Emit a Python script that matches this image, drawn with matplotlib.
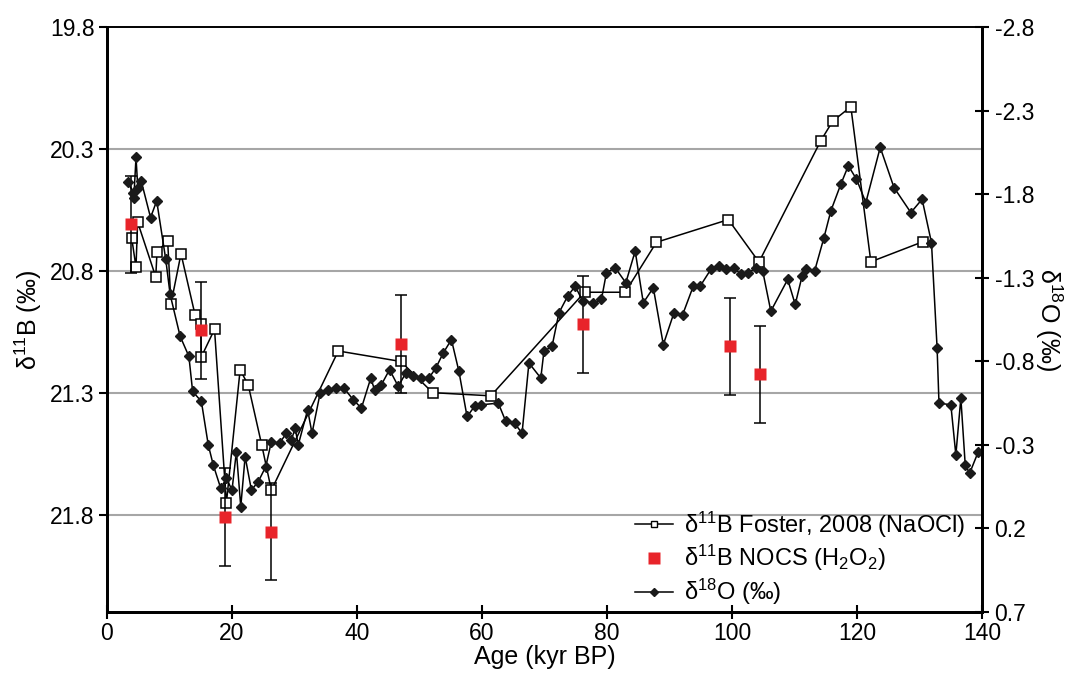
import matplotlib
matplotlib.use("Agg")
import matplotlib.pyplot as plt
from matplotlib.lines import Line2D
import numpy as np

plt.rcParams["font.family"] = ["Liberation Sans", "DejaVu Sans"]
plt.rcParams["mathtext.default"] = "regular"
plt.rcParams["axes.unicode_minus"] = False

# d11B, Foster 2008 (NaOCl cleaned)
foster_age = [3.95, 4.64, 4.9, 7.8, 8.0, 9.7, 10.24, 11.84, 14.08, 15.0, 15.1, 17.2,
              19.1, 21.3, 22.6, 24.75, 26.3, 37.0, 47.0, 52.1, 61.4, 76.4, 82.9, 87.9,
              99.4, 104.3, 114.2, 116.1, 119.0, 122.2, 130.6]
foster_d11b = [20.665, 20.785, 20.60, 20.825, 20.724, 20.676, 20.935, 20.73, 20.98, 21.02,
               21.153, 21.04, 21.753, 21.206, 21.269, 21.514, 21.70, 21.129, 21.172, 21.30,
               21.313, 20.888, 20.888, 20.683, 20.59, 20.764, 20.266, 20.186, 20.127,
               20.763, 20.68]

# d11B, NOCS (H2O2 cleaned) with 2 sd uncertainty
nocs_age = [3.84, 15.04, 18.9, 26.24, 47.0, 76.2, 99.6, 104.4]
nocs_d11b = [20.61, 21.044, 21.81, 21.87, 21.10, 21.02, 21.11, 21.225]
nocs_err = [0.2, 0.2, 0.2, 0.2, 0.2, 0.2, 0.2, 0.2]

# benthic d18O
d18o_age = [3.4, 4.2, 4.3, 4.64, 4.93, 5.47, 6.97, 7.95, 9.4, 10.1, 11.7, 13.1, 13.7,
            15.1, 16.2, 17.0, 18.2, 19.1, 20.0, 20.7, 21.4, 22.1, 23.1, 24.2, 25.4,
            26.3, 27.6, 28.7, 29.5, 30.1, 30.6, 32.1, 32.8, 34.1, 35.4, 36.7, 37.9,
            39.4, 40.7, 42.2, 42.8, 43.9, 45.2, 46.6, 47.8, 48.9, 50.2, 51.5, 52.6,
            53.8, 55.1, 56.3, 57.6, 58.8, 59.9, 62.6, 63.8, 65.2, 66.4, 67.5, 69.4,
            69.9, 71.2, 72.3, 73.7, 74.9, 76.1, 77.8, 79.1, 79.9, 81.3, 83.0, 84.5,
            85.8, 87.4, 89.0, 90.7, 92.1, 93.8, 94.9, 96.6, 97.9, 99.1, 100.3, 101.4,
            102.6, 103.9, 104.9, 106.2, 108.9, 110.1, 111.2, 111.8, 113.2, 114.7,
            115.8, 117.4, 118.6, 119.9, 121.4, 123.7, 125.9, 128.6, 130.4, 131.9,
            132.8, 133.1, 135.0, 135.8, 136.6, 137.3, 138.0, 139.4]
d18o = [-1.87, -1.81, -1.78, -2.02, -1.84, -1.88, -1.66, -1.76, -1.41, -1.20, -0.95,
        -0.83, -0.62, -0.56, -0.30, -0.18, -0.04, -0.10, -0.03, -0.26, 0.07, -0.23,
        -0.03, -0.08, -0.17, -0.32, -0.31, -0.37, -0.33, -0.40, -0.30, -0.51, -0.37,
        -0.61, -0.63, -0.64, -0.64, -0.57, -0.52, -0.70, -0.63, -0.66, -0.75, -0.65,
        -0.73, -0.71, -0.70, -0.70, -0.76, -0.85, -0.93, -0.74, -0.47, -0.53, -0.54,
        -0.55, -0.44, -0.43, -0.37, -0.79, -0.70, -0.86, -0.89, -1.09, -1.19, -1.25,
        -1.16, -1.15, -1.17, -1.33, -1.36, -1.27, -1.46, -1.15, -1.24, -0.90, -1.09,
        -1.08, -1.25, -1.25, -1.35, -1.37, -1.35, -1.36, -1.32, -1.33, -1.36, -1.34,
        -1.10, -1.29, -1.14, -1.31, -1.35, -1.34, -1.54, -1.70, -1.86, -1.97, -1.89,
        -1.75, -2.08, -1.84, -1.69, -1.77, -1.51, -0.88, -0.55, -0.54, -0.24, -0.58,
        -0.18, -0.13, -0.26]

left_ticks = [19.8, 20.3, 20.8, 21.3, 21.8]
right_ticks = [-2.8, -2.3, -1.8, -1.3, -0.8, -0.3, 0.2, 0.7]

RED = "#e8242a"

fig = plt.figure(figsize=(10.71, 6.78), dpi=100)
ax = fig.add_axes([0.0999, 0.0973, 0.8171, 0.8628])
ax2 = ax.twinx()

for y in left_ticks[1:]:
    ax.axhline(y, color="#a6a6a6", lw=1.5, zorder=0)

ax.plot(foster_age, foster_d11b, "-s", color="black", lw=1.1, ms=7,
        mfc="white", mec="black", mew=1.1, zorder=3)
ax.errorbar(nocs_age, nocs_d11b, yerr=nocs_err, fmt="s", color=RED,
            ms=8, mec="none", ecolor="black", elinewidth=1.1, capsize=4,
            capthick=1.1, zorder=4)
ax2.plot(d18o_age, d18o, "-D", color="black", lw=1.1, ms=5.5,
         mfc="#1a1a1a", mec="#1a1a1a")

ax.set_xlim(0, 140)
ax.set_xticks(np.arange(0, 141, 20))
ax.set_ylim(22.2, 19.8)
ax.set_yticks(left_ticks)
ax.set_yticklabels([f"{v:.1f}" for v in left_ticks])
ax2.set_ylim(0.7, -2.8)
ax2.set_yticks(right_ticks)
ax2.set_yticklabels([f"{v:.1f}" for v in right_ticks])

ax.set_xlabel("Age (kyr BP)", fontsize=18, labelpad=0)
ax.set_ylabel(r"δ$^{11}$B (‰)", fontsize=18, labelpad=4)
ax2.set_ylabel(r"δ$^{18}$O (‰)", fontsize=18, rotation=270, labelpad=22)

for a in (ax, ax2):
    a.spines["top"].set_linewidth(1.2)
    for s in ("left", "right", "bottom"):
        a.spines[s].set_linewidth(2)
ax.tick_params(axis="y", direction="out", length=6, width=1.5, labelsize=16.5, pad=3)
ax.tick_params(axis="x", direction="inout", length=10, width=1.5, labelsize=16.5, pad=2)
ax2.tick_params(axis="y", direction="inout", length=10, width=1.5, labelsize=16.5, pad=4)

handles = [
    Line2D([], [], color="black", lw=1.1, marker="s", ms=5, mfc="white", mec="black"),
    Line2D([], [], ls="none", marker="s", ms=8, color=RED, mec="none"),
    Line2D([], [], color="black", lw=1.1, marker="D", ms=4.5, mfc="#1a1a1a", mec="#1a1a1a"),
]
labels = [r"δ$^{11}$B Foster, 2008 (NaOCl)", r"δ$^{11}$B NOCS (H$_2$O$_2$)", r"δ$^{18}$O (‰)"]
ax.legend(handles, labels, loc="lower right", bbox_to_anchor=(1.0, -0.02),
          frameon=False, fontsize=17, handlelength=1.6, handletextpad=0.5,
          labelspacing=0.15, borderaxespad=0.3)

fig.savefig("out.png", dpi=100)
